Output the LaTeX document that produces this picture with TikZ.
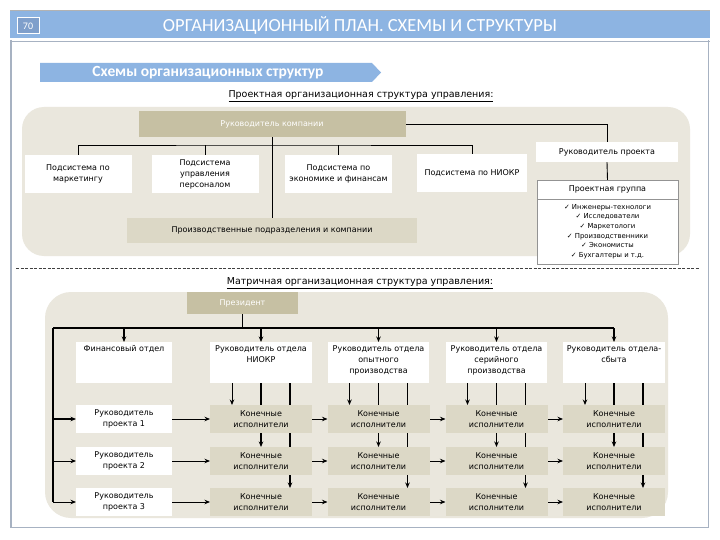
\documentclass[tikz,border=0pt]{standalone}
\usepackage{fontspec}
\setmainfont{DejaVu Sans}
\newfontfamily\carl{Carlito}
\usetikzlibrary{arrows.meta,calc}
\pgfdeclarelayer{bgl}
\pgfdeclarelayer{lnl}
\pgfsetlayers{bgl,lnl,main}
\definecolor{barblue}{HTML}{8DB4E2}
\definecolor{numblue}{HTML}{7F9FCB}
\definecolor{framec}{HTML}{A7B2C2}
\definecolor{bgbeige}{HTML}{EAE7DD}
\definecolor{tanc}{HTML}{C6C0A3}
\definecolor{ltan}{HTML}{DCD8C6}
\newcommand\mybody{\fontsize{8}{11}\selectfont}
\newcommand\mylist{\fontsize{6.9}{9.6}\selectfont}
\newcommand\myhead{\fontsize{9.5}{11}\selectfont}
\begin{document}
\begin{tikzpicture}[x=1pt,y=-1pt,
  every node/.style={inner sep=0pt,outer sep=0pt},
  wbox/.style={fill=white,align=center,font=\mybody,text=black},
  tbox/.style={fill=tanc,align=center,font=\mybody,text=white},
  kbox/.style={fill=ltan,align=center,font=\mybody,text=black,minimum width=102pt,minimum height=28pt},
  conn/.style={draw=black,line width=0.9pt},
  arr/.style={conn,-{Stealth[length=5.5pt,width=4.5pt]}}]
\useasboundingbox (0,0) rectangle (720,540);
\begin{pgfonlayer}{bgl}
\fill[white] (0,0) rectangle (720,540);
\fill[bgbeige,rounded corners=22pt] (22,107) rectangle (690,256);
\fill[bgbeige,rounded corners=26pt] (45,292) rectangle (668,518);
\end{pgfonlayer}
% frame and title bar
\draw[framec,line width=1.6pt] (10.8,40) -- (10.8,527.5) -- (708.5,527.5) -- (708.5,40);
\fill[barblue] (10,10) rectangle (709.5,38.5);
\draw[gray!60,line width=1.2pt] (10,10.6) -- (709.5,10.6);
\draw[framec,line width=1.4pt] (10,41.5) -- (709.5,41.5);
\node[fill=numblue,draw=white,line width=1pt,minimum width=22pt,minimum height=16pt,text=white,font=\carl\fontsize{10}{12}\selectfont] (num) at (28,26) {70};
\node[text=white,font=\carl\fontsize{18.5}{21}\selectfont] (title) at (360,25) {ОРГАНИЗАЦИОННЫЙ ПЛАН. СХЕМЫ И СТРУКТУРЫ};
% banner
\fill[barblue] (40,63) -- (372,63) -- (381,72.5) -- (372,82) -- (40,82) -- cycle;
\node[text=white,font=\carl\bfseries\fontsize{15.5}{17}\selectfont] (banner) at (208,72.5) {Схемы организационных структур};
% headings
\node[font=\myhead] (h1) at (361,96) {\underline{Проектная организационная структура управления:}};
\node[font=\myhead] (h2) at (360,283) {\underline{Матричная организационная структура управления:}};
% dashed separator
\draw[black!75,line width=1pt,dash pattern=on 3pt off 1.5pt] (16,268.5) -- (699,268.5);
% ===== project structure =====
\node[tbox,minimum width=267pt,minimum height=26pt] (rk) at (272,124) {Руководитель компании};
\node[wbox,minimum width=107pt,minimum height=38pt] (s1) at (78,174) {Подсистема по\\маркетингу};
\node[wbox,minimum width=107pt,minimum height=38pt] (s2) at (205,174) {Подсистема\\управления\\персоналом};
\node[wbox,minimum width=107pt,minimum height=38pt] (s3) at (338.5,174) {Подсистема по\\экономике и финансам};
\node[wbox,minimum width=110pt,minimum height=38pt] (s4) at (472,173.5) {Подсистема по НИОКР};
\node[wbox,minimum width=142pt,minimum height=20pt] (rp) at (607,152) {Руководитель проекта};
\node[wbox,draw=gray!85,line width=0.6pt,minimum width=141pt,minimum height=19pt] (pgh) at (607.5,189.5) {Проектная группа};
\node[wbox,draw=gray!85,line width=0.6pt,minimum width=141pt,minimum height=65pt,font=\mylist] (pgl) at (607.5,231.5)
  {✓ Инженеры-технологи\\✓ Исследователи\\✓ Маркетологи\\✓ Производственники\\✓ Экономисты\\✓ Бухгалтеры и т.д.};
\node[fill=ltan,align=center,font=\mybody,minimum width=290pt,minimum height=25pt] (pp) at (272,230.5) {Производственные подразделения и компании};
\coordinate (hb) at (272,145);
\begin{pgfonlayer}{lnl}
\draw[conn] (rk.south) -- (pp.north);
\draw[conn] (s1.north) |- (hb) -| (s4.north);
\draw[conn] (s2.north) -- (s2.north |- hb);
\draw[conn] (s3.north) -- (s3.north |- hb);
\draw[conn] (rk.east) -| (rp.north);
\draw[conn] (rp.south) -- (pgh.north);
\end{pgfonlayer}
% ===== matrix structure =====
\node[tbox,minimum width=111pt,minimum height=22pt] (pres) at (242.5,303) {Президент};
\node[wbox,minimum width=96pt,minimum height=41pt] (d1) at (124,362.5) {\parbox[t][34pt][t]{95pt}{\centering Финансовый отдел}};
\node[wbox,minimum width=102pt,minimum height=41pt] (d2) at (261,362.5) {\parbox[t][34pt][t]{100pt}{\centering Руководитель отдела\\НИОКР}};
\node[wbox,minimum width=101pt,minimum height=41pt] (d3) at (378.5,362.5) {\parbox[t][34pt][t]{100pt}{\centering Руководитель отдела\\опытного\\производства}};
\node[wbox,minimum width=101pt,minimum height=41pt] (d4) at (496.5,362.5) {\parbox[t][34pt][t]{100pt}{\centering Руководитель отдела\\серийного\\производства}};
\node[wbox,minimum width=102pt,minimum height=41pt] (d5) at (614,362.5) {\parbox[t][34pt][t]{100pt}{\centering Руководитель отдела-\\сбыта}};
\node[wbox,minimum width=96pt,minimum height=28pt] (p1) at (124,419) {Руководитель\\проекта 1};
\node[wbox,minimum width=96pt,minimum height=28pt] (p2) at (124,461) {Руководитель\\проекта 2};
\node[wbox,minimum width=96pt,minimum height=28pt] (p3) at (124,502) {Руководитель\\проекта 3};
\foreach \r/\y in {1/419,2/461,3/502}{
  \node[kbox] (k\r2) at (261,\y) {Конечные\\исполнители};
  \node[kbox] (k\r3) at (378.5,\y) {Конечные\\исполнители};
  \node[kbox] (k\r4) at (496.5,\y) {Конечные\\исполнители};
  \node[kbox] (k\r5) at (614,\y) {Конечные\\исполнители};
}
\coordinate (hm) at (242.5,328);
\coordinate (lt) at (53,328);
\begin{pgfonlayer}{lnl}
\draw[conn,line width=1.2pt] (pres.south) -- (hm);
\draw[conn,line width=1.7pt] (lt) -- (d5.north |- lt);
\foreach \d in {d1,d2,d3,d4,d5}{
  \draw[arr,line width=1.2pt] (\d.north |- lt) -- (\d.north);
}
\draw[conn,line width=1.5pt] (lt) -- (lt |- p3.west);
\draw[arr,line width=1.4pt] (lt |- p1.west) -- (p1.west);
\draw[arr] (lt |- p2.west) -- (p2.west);
\draw[arr] (lt |- p3.west) -- (p3.west);
\foreach \r in {1,2,3}{
  \draw[arr] (p\r.east) -- (k\r2.west);
  \draw[arr] (k\r2.east) -- (k\r3.west);
  \draw[arr] (k\r3.east) -- (k\r4.west);
  \draw[arr] (k\r4.east) -- (k\r5.west);
}
\foreach \c/\dn in {2/d2,3/d3,4/d4,5/d5}{
  \draw[arr] ([xshift=-29pt]\dn.south) -- ([xshift=-29pt]k1\c.north);
  \draw[arr,line width=1.3pt] (\dn.south) -- (k2\c.north);
  \draw[arr,line width=1.1pt] ([xshift=29pt]\dn.south) -- ([xshift=29pt]k3\c.north);
}
\end{pgfonlayer}
\end{tikzpicture}
\end{document}
